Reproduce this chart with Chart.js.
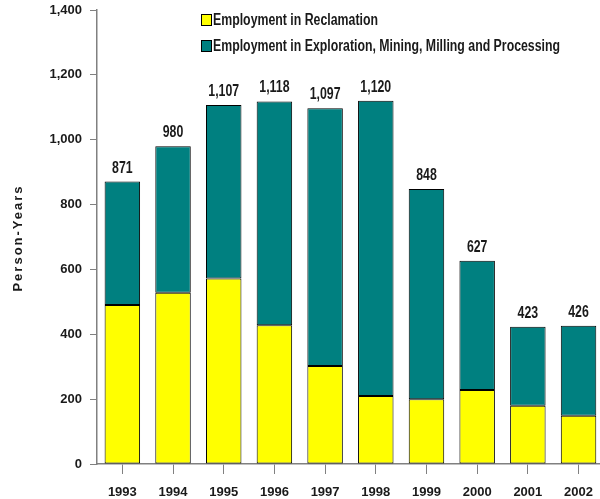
<!DOCTYPE html>
<html>
<head>
<meta charset="utf-8">
<script src="https://cdn.jsdelivr.net/npm/chart.js@4.4.1/dist/chart.umd.min.js"></script>
<style>
  html, body { margin: 0; padding: 0; background: #fff; overflow: hidden; }
  #wrap { position: relative; width: 604px; height: 499px; }
</style>
</head>
<body>
<div id="wrap"><canvas id="chart"></canvas></div>
<script>
const years = ['1993', '1994', '1995', '1996', '1997', '1998', '1999', '2000', '2001', '2002'];
const reclamation = [490, 528, 572, 428, 302, 210, 200, 228, 180, 149];
const exploration = [381, 452, 535, 690, 795, 910, 648, 399, 243, 277];
const totals = [871, 980, 1107, 1118, 1097, 1120, 848, 627, 423, 426];
const yTicks = [0, 200, 400, 600, 800, 1000, 1200, 1400];

const FONT = "'Liberation Sans Narrow', 'Arial Narrow', 'Liberation Sans', Arial, sans-serif";
const INK = '#1a1a1a';
const AXIS = '#808080';
const SQUEEZE = 0.77; // narrow look for the annotation text

function narrowText(ctx, text, x, y, align) {
  ctx.save();
  ctx.translate(x, y);
  ctx.scale(SQUEEZE, 1);
  ctx.textAlign = align;
  ctx.fillText(text, 0, 0);
  ctx.restore();
}

const overlay = {
  id: 'overlay',
  afterDatasetsDraw(chart) {
    const ctx = chart.ctx;
    const x = chart.scales.x, y = chart.scales.y;
    ctx.save();
    // totals above bars
    ctx.font = 'bold 16px ' + FONT;
    ctx.fillStyle = INK;
    ctx.textBaseline = 'alphabetic';
    totals.forEach((t, i) => {
      narrowText(ctx, t.toLocaleString('en-US'), x.getPixelForValue(i), y.getPixelForValue(t) - 9, 'center');
    });
    // legend inside the plot
    ctx.textBaseline = 'middle';
    chart.data.datasets.forEach((ds, i) => {
      const by = 14 + i * 26;
      ctx.fillStyle = ds.backgroundColor;
      ctx.fillRect(201.5, by + 0.5, 10, 11);
      ctx.strokeStyle = '#000';
      ctx.lineWidth = 1;
      ctx.strokeRect(201.5, by + 0.5, 10, 11);
      ctx.fillStyle = INK;
      narrowText(ctx, ds.label, 213, by + 6.5, 'left');
    });
    // y axis title, letter-spaced
    ctx.translate(18, 238);
    ctx.rotate(-Math.PI / 2);
    ctx.textAlign = 'center';
    ctx.font = 'bold 13px ' + FONT;
    ctx.letterSpacing = '2px';
    ctx.fillText('Person-Years', 0, 0);
    ctx.restore();
  }
};

new Chart(document.getElementById('chart'), {
  type: 'bar',
  data: {
    labels: years,
    datasets: [
      { label: 'Employment in Reclamation', data: reclamation, backgroundColor: '#ffff00', borderColor: '#000', borderWidth: 1, borderSkipped: false },
      { label: 'Employment in Exploration, Mining, Milling and Processing', data: exploration, backgroundColor: '#008080', borderColor: '#000', borderWidth: 1, borderSkipped: false }
    ]
  },
  options: {
    responsive: true,
    maintainAspectRatio: false,
    animation: false,
    layout: { padding: { top: 10, right: 0, left: 0, bottom: 0 } },
    datasets: { bar: { categoryPercentage: 0.7, barPercentage: 1 } },
    plugins: {
      legend: { display: false },
      tooltip: { enabled: false }
    },
    scales: {
      x: {
        stacked: true,
        grid: { display: true, drawOnChartArea: false, color: AXIS, tickLength: 10, offset: false, lineWidth: 1 },
        border: { color: AXIS, width: 1.5 },
        ticks: { color: INK, font: { family: FONT, size: 13, weight: 'bold' }, padding: 11, maxRotation: 0 },
        afterFit: s => { s.height = 35; }
      },
      y: {
        stacked: true,
        min: 0,
        max: 1400,
        afterBuildTicks: s => { s.ticks = yTicks.map(v => ({ value: v })); },
        grid: { display: true, drawOnChartArea: false, color: AXIS, tickLength: 7 },
        border: { color: AXIS, width: 1.5 },
        ticks: { color: INK, font: { family: FONT, size: 13, weight: 'bold' }, padding: 8,
                 callback: v => v.toLocaleString('en-US') },
        afterFit: s => { s.width = 97; s.paddingTop = 0; s.paddingBottom = 0; }
      }
    }
  },
  plugins: [overlay]
});
</script>
</body>
</html>
